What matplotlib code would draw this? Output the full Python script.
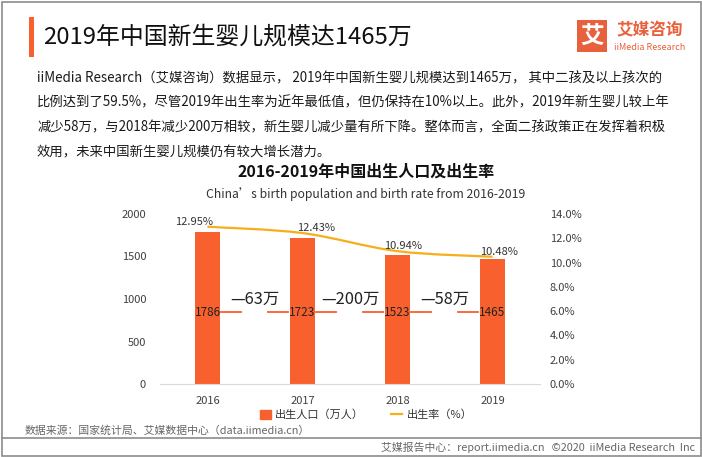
import matplotlib.pyplot as plt
import numpy as np
from matplotlib.path import Path
from matplotlib.patches import PathPatch, Rectangle, Patch
from matplotlib.lines import Line2D
import matplotlib.transforms as mtransforms

plt.rcParams['font.family'] = ['Noto Sans CJK SC', 'DejaVu Sans']

# data
years = ['2016', '2017', '2018', '2019']
births = [1786, 1723, 1523, 1465]            # 万人
birth_rate = [12.95, 12.43, 10.94, 10.48]    # %
left_ticks = [0, 500, 1000, 1500, 2000]
right_ticks = [0, 2, 4, 6, 8, 10, 12, 14]

title = '2019年中国新生婴儿规模达1465万'
body = [
    'iiMedia Research（艾媒咨询）数据显示， 2019年中国新生婴儿规模达到1465万， 其中二孩及以上孩次的',
    '比例达到了59.5%，尽管2019年出生率为近年最低值，但仍保持在10%以上。此外，2019年新生婴儿较上年',
    '减少58万，与2018年减少200万相较，新生婴儿减少量有所下降。整体而言，全面二孩政策正在发挥着积极',
    '效用，未来中国新生婴儿规模仍有较大增长潜力。',
]
chart_title = '2016-2019年中国出生人口及出生率'
chart_sub = 'China’s birth population and birth rate from 2016-2019'
source = '数据来源：国家统计局、艾媒数据中心（data.iimedia.cn）'
footer = '艾媒报告中心：report.iimedia.cn   ©2020  iiMedia Research  Inc'

bar_color = '#F8612E'
line_color = '#F6AE1B'
W, H = 702, 457

fig = plt.figure(figsize=(W / 100, H / 100), dpi=100)

def fx(px):
    return px / W

def fy(py):
    return 1 - py / H

# frame and header
fig.patches.append(Rectangle((fx(1.5), fy(455.5)), fx(699), 453.5 / H, transform=fig.transFigure,
                             fill=False, edgecolor='#8c8c8c', lw=1.2))
fig.patches.append(Rectangle((fx(29), fy(57)), fx(5), 40 / H, transform=fig.transFigure,
                             color=bar_color, lw=0))
fig.text(fx(43), fy(37), title, fontsize=17.2, va='center', ha='left', color='#111111')

# logo
fig.patches.append(Rectangle((fx(577), fy(52)), fx(30), 32 / H, transform=fig.transFigure,
                             color='#E8603C', lw=0))
fig.text(fx(592), fy(36), '艾', fontsize=17, fontweight='bold', color='white', ha='center', va='center')
fig.text(fx(650), fy(30), '艾媒咨询', fontsize=12, fontweight='bold', color='#E8603C', ha='center', va='center')
fig.text(fx(650), fy(47), 'iiMedia Research', fontsize=6.5, color='#E8603C', ha='center', va='center')

for i, line in enumerate(body):
    fig.text(fx(37), fy(78 + 24.7 * i), line, fontsize=9.6, va='center', ha='left', color='#1a1a1a')

fig.text(fx(366), fy(172), chart_title, fontsize=11.5, fontweight='bold', ha='center', va='center', color='#111111')
fig.text(fx(366), fy(194), chart_sub, fontsize=8.8, ha='center', va='center', color='#333333')

# chart
ax = fig.add_axes([fx(160), fy(384), fx(380), 170 / H])
x = np.arange(len(years))
ax.bar(x, births, width=0.26, color=bar_color, zorder=2)
ax.set_xlim(-0.5, len(years) - 0.5)
ax.set_ylim(0, 2000)
ax.set_yticks(left_ticks)
ax.set_xticks(x)
ax.set_xticklabels(years)
for s in ['top', 'left', 'right']:
    ax.spines[s].set_visible(False)
ax.spines['bottom'].set_color('#d9d9d9')
ax.tick_params(length=0, labelsize=8, colors='#404040')
ax.tick_params(axis='y', pad=10)
ax.tick_params(axis='x', pad=9)

ax2 = ax.twinx()
ax2.set_ylim(0, 14)
ax2.set_yticks(right_ticks)
ax2.set_yticklabels([f'{t:.1f}%' for t in right_ticks])
for s in ax2.spines.values():
    s.set_visible(False)
ax2.tick_params(length=0, labelsize=8, colors='#404040', pad=7)

# smooth rate line (Catmull-Rom as Bezier)
pts = np.column_stack([x, birth_rate]).astype(float)
ext = np.vstack([pts[0], pts, pts[-1]])
verts = [tuple(pts[0])]
codes = [Path.MOVETO]
for i in range(len(pts) - 1):
    p0, p1, p2, p3 = ext[i], ext[i + 1], ext[i + 2], ext[i + 3]
    c1 = p1 + (p2 - p0) / 6
    c2 = p2 - (p3 - p1) / 6
    verts += [tuple(c1), tuple(c2), tuple(p2)]
    codes += [Path.CURVE4] * 3
ax2.add_patch(PathPatch(Path(verts, codes), fill=False, edgecolor=line_color, lw=1.6, zorder=3))

label_dx = [-10, 10, 4, 5]
for xi, r, dx in zip(x, birth_rate, label_dx):
    ax2.annotate(f'{r:.2f}%', (xi, r), xytext=(dx, 0), textcoords='offset points',
                 ha='center', va='bottom', fontsize=8, color='#333333')

# bar values and year-on-year change
blend = mtransforms.blended_transform_factory(ax.transData, ax.transAxes)
for xi, b in zip(x, births):
    ax.text(xi, 0.42, str(b), transform=blend, ha='center', va='center', fontsize=8.5,
            color='#222222', zorder=4)
for i in range(len(births) - 1):
    ax.plot([x[i] + 0.14, x[i] + 0.35], [0.424, 0.424], transform=blend, color=bar_color, lw=1.3)
    ax.plot([x[i + 1] - 0.36, x[i + 1] - 0.15], [0.424, 0.424], transform=blend, color=bar_color, lw=1.3)
    diff = births[i] - births[i + 1]
    ax.text(x[i] + 0.5, 0.5, f'—{diff}万', transform=blend, ha='center', va='center',
            fontsize=11.8, color='#222222')

handles = [Patch(color=bar_color), Line2D([0], [0], color=line_color, lw=1.6)]
fig.legend(handles, ['出生人口（万人）', '出生率（%）'], loc='center', bbox_to_anchor=(fx(366), fy(415)),
           ncol=2, frameon=False, fontsize=8, handlelength=1.0, handleheight=0.8, columnspacing=2.4,
           handletextpad=0.4, labelcolor='#333333')

# footer
fig.text(fx(25), fy(431), source, fontsize=7.8, color='#666666', ha='left', va='center')
fig.add_artist(Line2D([fx(1.5), fx(700.5)], [fy(438), fy(438)], transform=fig.transFigure,
                      color='#8c8c8c', lw=1.2))
fig.text(fx(695), fy(447), footer, fontsize=7.8, color='#666666', ha='right', va='center')

fig.savefig('out.png', dpi=100)
